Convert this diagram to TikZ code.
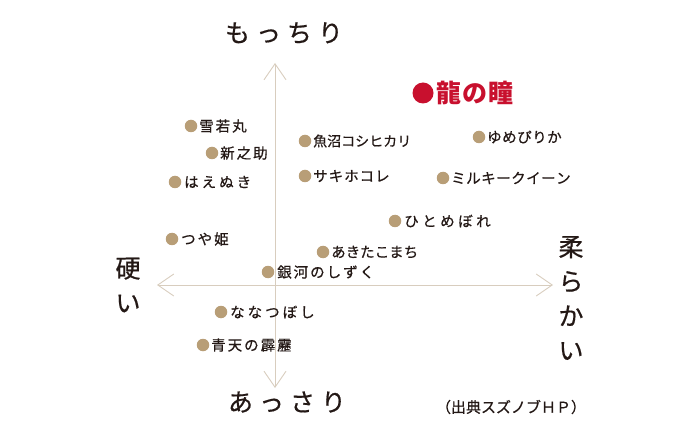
\documentclass[tikz,border=0pt]{standalone}
\usepackage{fontspec}
\setmainfont{Noto Sans CJK JP}
\newfontfamily\medf{Noto Sans CJK JP}[FakeBold=0.6]
\usetikzlibrary{arrows.meta}
\definecolor{dotc}{HTML}{B89E77}
\definecolor{redc}{HTML}{C8102E}
\definecolor{axisc}{HTML}{D8CDBE}
\definecolor{ink}{HTML}{231815}
% letter spacing helper: \lsp{gap}{text}
\def\lsp#1#2{\def\lspsep{\kern#1}\lspgo#2\relax}
\def\lspgo#1{\ifx#1\relax\else#1\expandafter\lspnext\fi}
\def\lspnext#1{\ifx#1\relax\else\lspsep#1\expandafter\lspnext\fi}
\begin{document}
\begin{tikzpicture}[x=1pt,y=-1pt,
  dot/.style={circle,fill=dotc,inner sep=0pt,minimum size=12.5pt},
  lbl/.style={anchor=west,inner sep=0pt,font=\medf\fontsize{14.5}{16}\selectfont,text=ink},
  big/.style={inner sep=0pt,font=\medf\fontsize{25}{34.5}\selectfont,text=ink,align=center},
  axisline/.style={draw=axisc,line width=0.9pt},
  barb/.tip={Straight Barb[length=16pt,width=22pt,line width=0.9pt]}
]
\useasboundingbox (0,0) rectangle (700,435);
% axes
\coordinate (top) at (275,63);
\coordinate (bot) at (275,388);
\coordinate (lft) at (157,285);
\coordinate (rgt) at (553,285);
\draw[axisline,barb-barb] (bot) -- (top);
\draw[axisline,barb-barb] (lft) -- (rgt);
% axis labels
\node[big] (mochi) at (284,33) {も\hspace{6pt}っ\hspace{6pt}ち\hspace{6pt}り};
\node[big] (assari) at (287,402) {あ\hspace{6pt}っ\hspace{6pt}さ\hspace{6pt}り};
\node[big] (katai) at (128,285) {硬\\い};
\node[big] (yawa) at (571,298) {柔\\ら\\か\\い};
\node[inner sep=0pt,font=\medf\fontsize{15}{16}\selectfont,text=ink] (src) at (511,407) {（出典スズノブＨＰ）};
% red highlight
\node[dot,fill=redc,minimum size=21pt] (dr) at (423,93) {};
\node[lbl,font=\fontsize{25}{27}\selectfont\bfseries,text=redc] (tr) at (436,93) {龍\hspace{1pt}の\hspace{1pt}瞳};
% rice varieties
\node[dot] (d1) at (191,126) {};  \node[lbl] (t1) at (199,126) {\lsp{2pt}{雪若丸}};
\node[dot] (d2) at (212,153) {};  \node[lbl] (t2) at (220,153) {\lsp{2pt}{新之助}};
\node[dot] (d3) at (175,182) {};  \node[lbl] (t3) at (184,182) {\lsp{3pt}{はえぬき}};
\node[dot] (d4) at (305,141) {};  \node[lbl,font=\medf\fontsize{14}{16}\selectfont] (t4) at (313,141) {魚沼コシヒカリ};
\node[dot] (d5) at (305,176) {};  \node[lbl] (t5) at (313,176) {\lsp{1pt}{サキホコレ}};
\node[dot] (d6) at (479,137) {};  \node[lbl] (t6) at (487,137) {\lsp{0.5pt}{ゆめぴりか}};
\node[dot] (d7) at (443,178) {};  \node[lbl] (t7) at (451,178) {\lsp{0.5pt}{ミルキークイーン}};
\node[dot] (d8) at (395,221) {};  \node[lbl] (t8) at (404,221) {\lsp{3.5pt}{ひとめぼれ}};
\node[dot] (d9) at (172,239) {};  \node[lbl] (t9) at (181,239) {\lsp{2pt}{つや姫}};
\node[dot] (d10) at (323,252) {}; \node[lbl] (t10) at (331,252) {あきたこまち};
\node[dot] (d11) at (268,272) {}; \node[lbl] (t11) at (277,272) {\lsp{2pt}{銀河のしずく}};
\node[dot] (d12) at (221,312) {}; \node[lbl] (t12) at (230,312) {\lsp{3pt}{ななつぼし}};
\node[dot] (d13) at (203,345) {}; \node[lbl] (t13) at (211,345) {\lsp{2pt}{青天の霹靂}};
\end{tikzpicture}
\end{document}
